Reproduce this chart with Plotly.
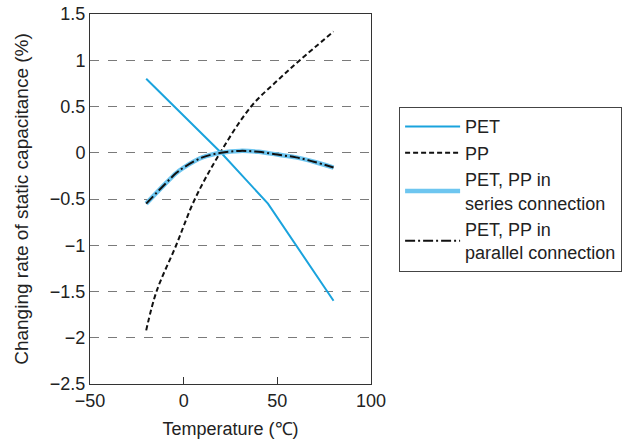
import plotly.graph_objects as go

pet_x = [-20, 20, 45, 80]
pet_y = [0.8, 0.0, -0.55, -1.6]

pp_x = [-20, -14.5, -4, 6, 19.5, 36, 50, 62, 80]
pp_y = [-1.92, -1.5, -1.0, -0.5, 0.0, 0.5, 0.78, 1.0, 1.31]

comb_x = [-20, -10, -4, 0, 10, 20, 30, 40, 50, 60, 70, 80]
ser_y = [-0.55, -0.34, -0.22, -0.16, -0.05, 0.0, 0.02, 0.01, -0.02, -0.05, -0.1, -0.16]
par_y = ser_y

y_ticks = [-2.5, -2, -1.5, -1, -0.5, 0, 0.5, 1, 1.5]
y_labels = ["−2.5", "−2", "−1.5", "−1", "−0.5", "0", "0.5", "1", "1.5"]
x_ticks = [-50, 0, 50, 100]

fig = go.Figure()
fig.add_trace(go.Scatter(x=pet_x, y=pet_y, mode="lines", name="PET",
                         line=dict(color="#1aa3dd", width=2)))
fig.add_trace(go.Scatter(x=pp_x, y=pp_y, mode="lines", name="PP",
                         line=dict(color="#111111", width=2, dash="5px,3px", shape="spline")))
fig.add_trace(go.Scatter(x=comb_x, y=ser_y, mode="lines", name="PET, PP in<br>series connection",
                         line=dict(color="#6ec6f0", width=4.5, shape="spline")))
fig.add_trace(go.Scatter(x=comb_x, y=par_y, mode="lines", name="PET, PP in<br>parallel connection",
                         line=dict(color="#111111", width=2, dash="10px,3px,2px,3px", shape="spline")))

fig.update_layout(
    width=634, height=443,
    margin=dict(l=90, r=263, t=14, b=59),
    paper_bgcolor="white", plot_bgcolor="white",
    font=dict(family="Liberation Sans, Arial, sans-serif", size=18, color="#222"),
    legend=dict(x=1.1, y=0.525, xanchor="left", yanchor="middle",
                bordercolor="#444", borderwidth=1, font=dict(size=18),
                itemwidth=55, tracegroupgap=2),
    xaxis=dict(range=[-50, 100], tickvals=x_ticks, ticks="inside", ticklen=7,
               tickcolor="#333", showgrid=False, zeroline=False, showline=True,
               linecolor="#333", linewidth=1, mirror=True, tickfont=dict(size=18),
               automargin=False,
               title=dict(text="Temperature (℃)", font=dict(size=18), standoff=12)),
    yaxis=dict(range=[-2.5, 1.5], tickvals=y_ticks, ticktext=y_labels,
               showgrid=True, gridcolor="#7a7a7a", griddash="dash", gridwidth=1,
               zeroline=False, showline=True, linecolor="#333", linewidth=1, mirror=True,
               tickfont=dict(size=18), automargin=False, ticklabeloverflow="allow",
               title=dict(text="Changing rate of static capacitance (%)", font=dict(size=19), standoff=16)),
)

fig.write_html("out.html", config={"displayModeBar": False},
               post_script="document.body.style.margin='0';")
